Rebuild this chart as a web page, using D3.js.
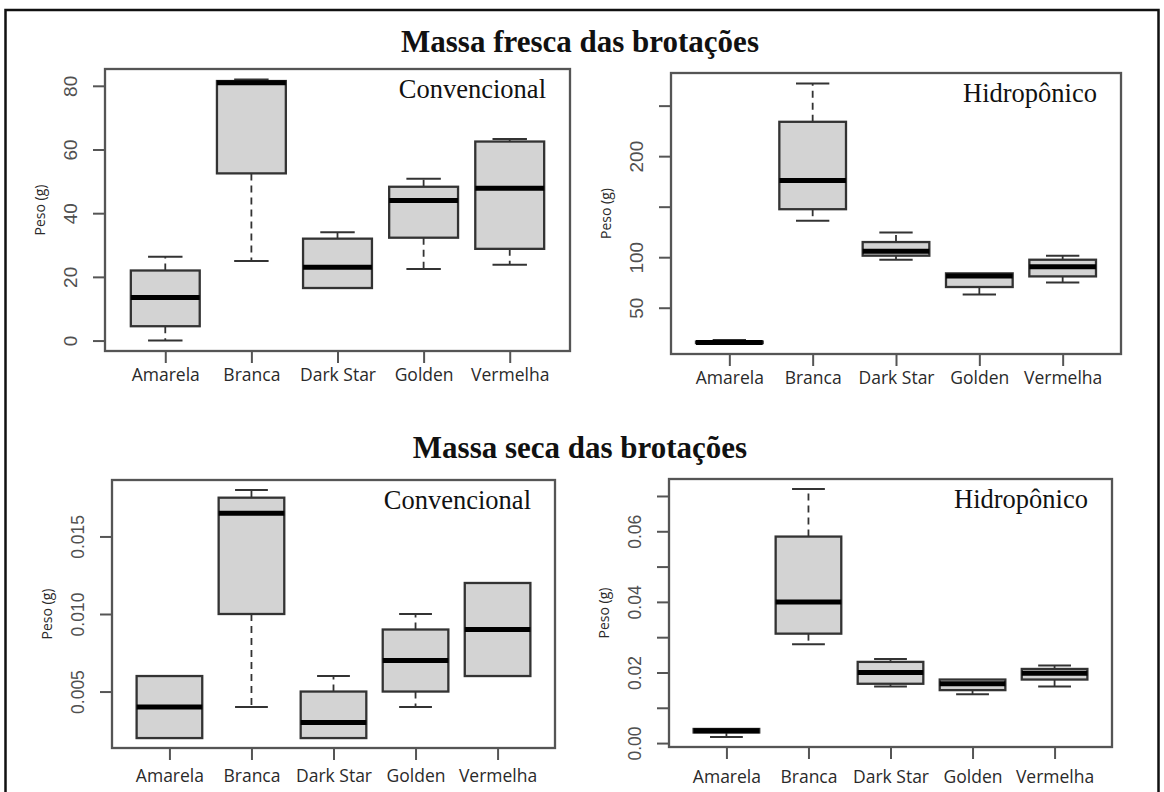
<!DOCTYPE html>
<html>
<head>
<meta charset="utf-8">
<script src="https://cdn.jsdelivr.net/npm/d3@7"></script>
<style>
  html, body { margin: 0; padding: 0; background: #fff; }
  svg { display: block; }
</style>
</head>
<body>
<svg id="fig" width="1164" height="792"></svg>
<script>
// Cultivars on the x axis
const categories = ["Amarela", "Branca", "Dark Star", "Golden", "Vermelha"];

// Five-number summaries per cultivar: [min, Q1, median, Q3, max]
const frescaConvencional = [
  [0, 4.5, 13.5, 22, 26.3],
  [25, 52.5, 81, 81.5, 82],
  [16.5, 16.5, 23, 32, 34],
  [22.5, 32.3, 44, 48.3, 50.8],
  [23.8, 28.8, 47.8, 62.5, 63.3]
];
const frescaHidroponico = [
  [14.5, 15, 15.5, 16.5, 18],
  [136, 147.5, 176, 234, 272],
  [97.5, 101.5, 106, 115, 124.5],
  [63, 70.5, 81.5, 84, 84],
  [75, 81, 90.5, 97.5, 101.5]
];
const secaConvencional = [
  [0.002, 0.002, 0.004, 0.006, 0.006],
  [0.004, 0.010, 0.0165, 0.0175, 0.018],
  [0.002, 0.002, 0.003, 0.005, 0.006],
  [0.004, 0.005, 0.007, 0.009, 0.010],
  [0.006, 0.006, 0.009, 0.012, 0.012]
];
const secaHidroponico = [
  [0.0017, 0.003, 0.0035, 0.004, 0.004],
  [0.028, 0.031, 0.040, 0.0585, 0.072],
  [0.016, 0.0168, 0.020, 0.023, 0.0238],
  [0.0138, 0.015, 0.0168, 0.018, 0.018],
  [0.016, 0.018, 0.0198, 0.021, 0.022]
];

// Y axis ticks and their labels (empty label = unlabelled tick)
const frescaConvTicks = [0, 20, 40, 60, 80];
const frescaConvTickLabels = ["0", "20", "40", "60", "80"];
const frescaHidroTicks = [50, 100, 150, 200, 250];
const frescaHidroTickLabels = ["50", "100", "", "200", ""];
const secaConvTicks = [0.005, 0.010, 0.015];
const secaConvTickLabels = ["0.005", "0.010", "0.015"];
const secaHidroTicks = [0, 0.01, 0.02, 0.03, 0.04, 0.05, 0.06, 0.07];
const secaHidroTickLabels = ["0.00", "", "0.02", "", "0.04", "", "0.06", ""];

const sectionTitles = ["Massa fresca das brotações", "Massa seca das brotações"];
const systemLabels = ["Convencional", "Hidropônico"];
const yAxisTitle = "Peso (g)";

const svg = d3.select("#fig");

// outer frame of the figure
svg.append("rect")
  .attr("x", 5.5).attr("y", 10)
  .attr("width", 1153).attr("height", 800)
  .attr("fill", "none").attr("stroke", "#111").attr("stroke-width", 2.5);

// section titles
const titleY = [52, 458];
sectionTitles.forEach((t, i) => {
  svg.append("text")
    .attr("x", 580).attr("y", titleY[i])
    .attr("text-anchor", "middle")
    .attr("font-family", "'Liberation Serif', 'Times New Roman', serif")
    .attr("font-weight", "bold")
    .attr("font-size", 31)
    .attr("fill", "#111")
    .text(t);
});

const panels = [
  { data: frescaConvencional, ticks: frescaConvTicks, labels: frescaConvTickLabels, tag: systemLabels[0],
    x0: 105, x1: 570, y0: 69, y1: 351, labelDy: 30, tickFont: 19 },
  { data: frescaHidroponico, ticks: frescaHidroTicks, labels: frescaHidroTickLabels, tag: systemLabels[1],
    x0: 671, x1: 1121, y0: 73, y1: 354, labelDy: 30, tickFont: 19 },
  { data: secaConvencional, ticks: secaConvTicks, labels: secaConvTickLabels, tag: systemLabels[0],
    x0: 112, x1: 555, y0: 480, y1: 748, labelDy: 34, tickFont: 17.5 },
  { data: secaHidroponico, ticks: secaHidroTicks, labels: secaHidroTickLabels, tag: systemLabels[1],
    x0: 669, x1: 1112, y0: 479, y1: 747, labelDy: 36, tickFont: 17.5 }
];

const frameColor = "#555";
const boxStroke = "#333";

panels.forEach(p => {
  const g = svg.append("g");

  // category positions as in a base-R boxplot: 0.5..5.5 padded by 4%
  const x = d3.scalePoint().domain(categories).range([p.x0, p.x1]).padding(0.7);
  const step = x.step();
  const boxW = step * 0.8;

  // y range: data range padded by 4% each side
  const lo = d3.min(p.data, d => d[0]);
  const hi = d3.max(p.data, d => d[4]);
  const pad = (hi - lo) * 0.04;
  const y = d3.scaleLinear().domain([lo - pad, hi + pad]).range([p.y1, p.y0]);

  // boxes
  categories.forEach((c, i) => {
    const [mn, q1, md, q3, mx] = p.data[i];
    const cx = x(c);
    const bg = g.append("g");
    // whiskers with staples
    if (mx > q3) {
      bg.append("line").attr("x1", cx).attr("x2", cx).attr("y1", y(q3)).attr("y2", y(mx))
        .attr("stroke", boxStroke).attr("stroke-width", 1.8).attr("stroke-dasharray", "7,5");
      bg.append("line").attr("x1", cx - boxW / 4).attr("x2", cx + boxW / 4).attr("y1", y(mx)).attr("y2", y(mx))
        .attr("stroke", boxStroke).attr("stroke-width", 2);
    }
    if (mn < q1) {
      bg.append("line").attr("x1", cx).attr("x2", cx).attr("y1", y(q1)).attr("y2", y(mn))
        .attr("stroke", boxStroke).attr("stroke-width", 1.8).attr("stroke-dasharray", "7,5");
      bg.append("line").attr("x1", cx - boxW / 4).attr("x2", cx + boxW / 4).attr("y1", y(mn)).attr("y2", y(mn))
        .attr("stroke", boxStroke).attr("stroke-width", 2);
    }
    // box
    bg.append("rect")
      .attr("x", cx - boxW / 2).attr("y", y(q3))
      .attr("width", boxW).attr("height", Math.max(0.5, y(q1) - y(q3)))
      .attr("fill", "#d3d3d3").attr("stroke", boxStroke).attr("stroke-width", 2.3);
    // median
    bg.append("line").attr("x1", cx - boxW / 2).attr("x2", cx + boxW / 2).attr("y1", y(md)).attr("y2", y(md))
      .attr("stroke", "#000").attr("stroke-width", 5);
  });

  // plot frame
  g.append("rect")
    .attr("x", p.x0).attr("y", p.y0)
    .attr("width", p.x1 - p.x0).attr("height", p.y1 - p.y0)
    .attr("fill", "none").attr("stroke", frameColor).attr("stroke-width", 2.3);

  // y axis
  const ya = g.append("g").attr("transform", `translate(${p.x0},0)`)
    .call(d3.axisLeft(y).tickValues(p.ticks).tickSize(12).tickFormat((d, i) => p.labels[i]));
  ya.select(".domain").remove();
  ya.selectAll(".tick line").attr("stroke", frameColor).attr("stroke-width", 2);
  ya.selectAll(".tick text")
    .attr("x", null).attr("dy", null)
    .attr("text-anchor", "middle")
    .attr("transform", "translate(-28,0) rotate(-90)")
    .attr("font-family", "'Liberation Sans', Arial, sans-serif")
    .attr("font-size", p.tickFont)
    .attr("fill", "#505050");

  // x axis
  const xa = g.append("g").attr("transform", `translate(0,${p.y1})`)
    .call(d3.axisBottom(x).tickSize(12));
  xa.select(".domain").remove();
  xa.selectAll(".tick line").attr("stroke", frameColor).attr("stroke-width", 2);
  xa.selectAll(".tick text")
    .attr("y", p.labelDy).attr("dy", null)
    .attr("font-family", "'Open Sans', sans-serif")
    .attr("font-size", 17.5)
    .attr("fill", "#2a2a2a");

  // y axis title
  const my = (p.y0 + p.y1) / 2;
  g.append("text")
    .attr("transform", `translate(${p.x0 - 60},${my}) rotate(-90)`)
    .attr("text-anchor", "middle")
    .attr("font-family", "'Open Sans', sans-serif")
    .attr("font-size", 14)
    .attr("fill", "#2a2a2a")
    .text(yAxisTitle);

  // system label inside the plot
  g.append("text")
    .attr("x", p.x1 - 24).attr("y", p.y0 + 29)
    .attr("text-anchor", "end")
    .attr("font-family", "'Liberation Serif', 'Times New Roman', serif")
    .attr("font-size", 26.5)
    .attr("fill", "#111")
    .text(p.tag);
});
</script>
</body>
</html>
